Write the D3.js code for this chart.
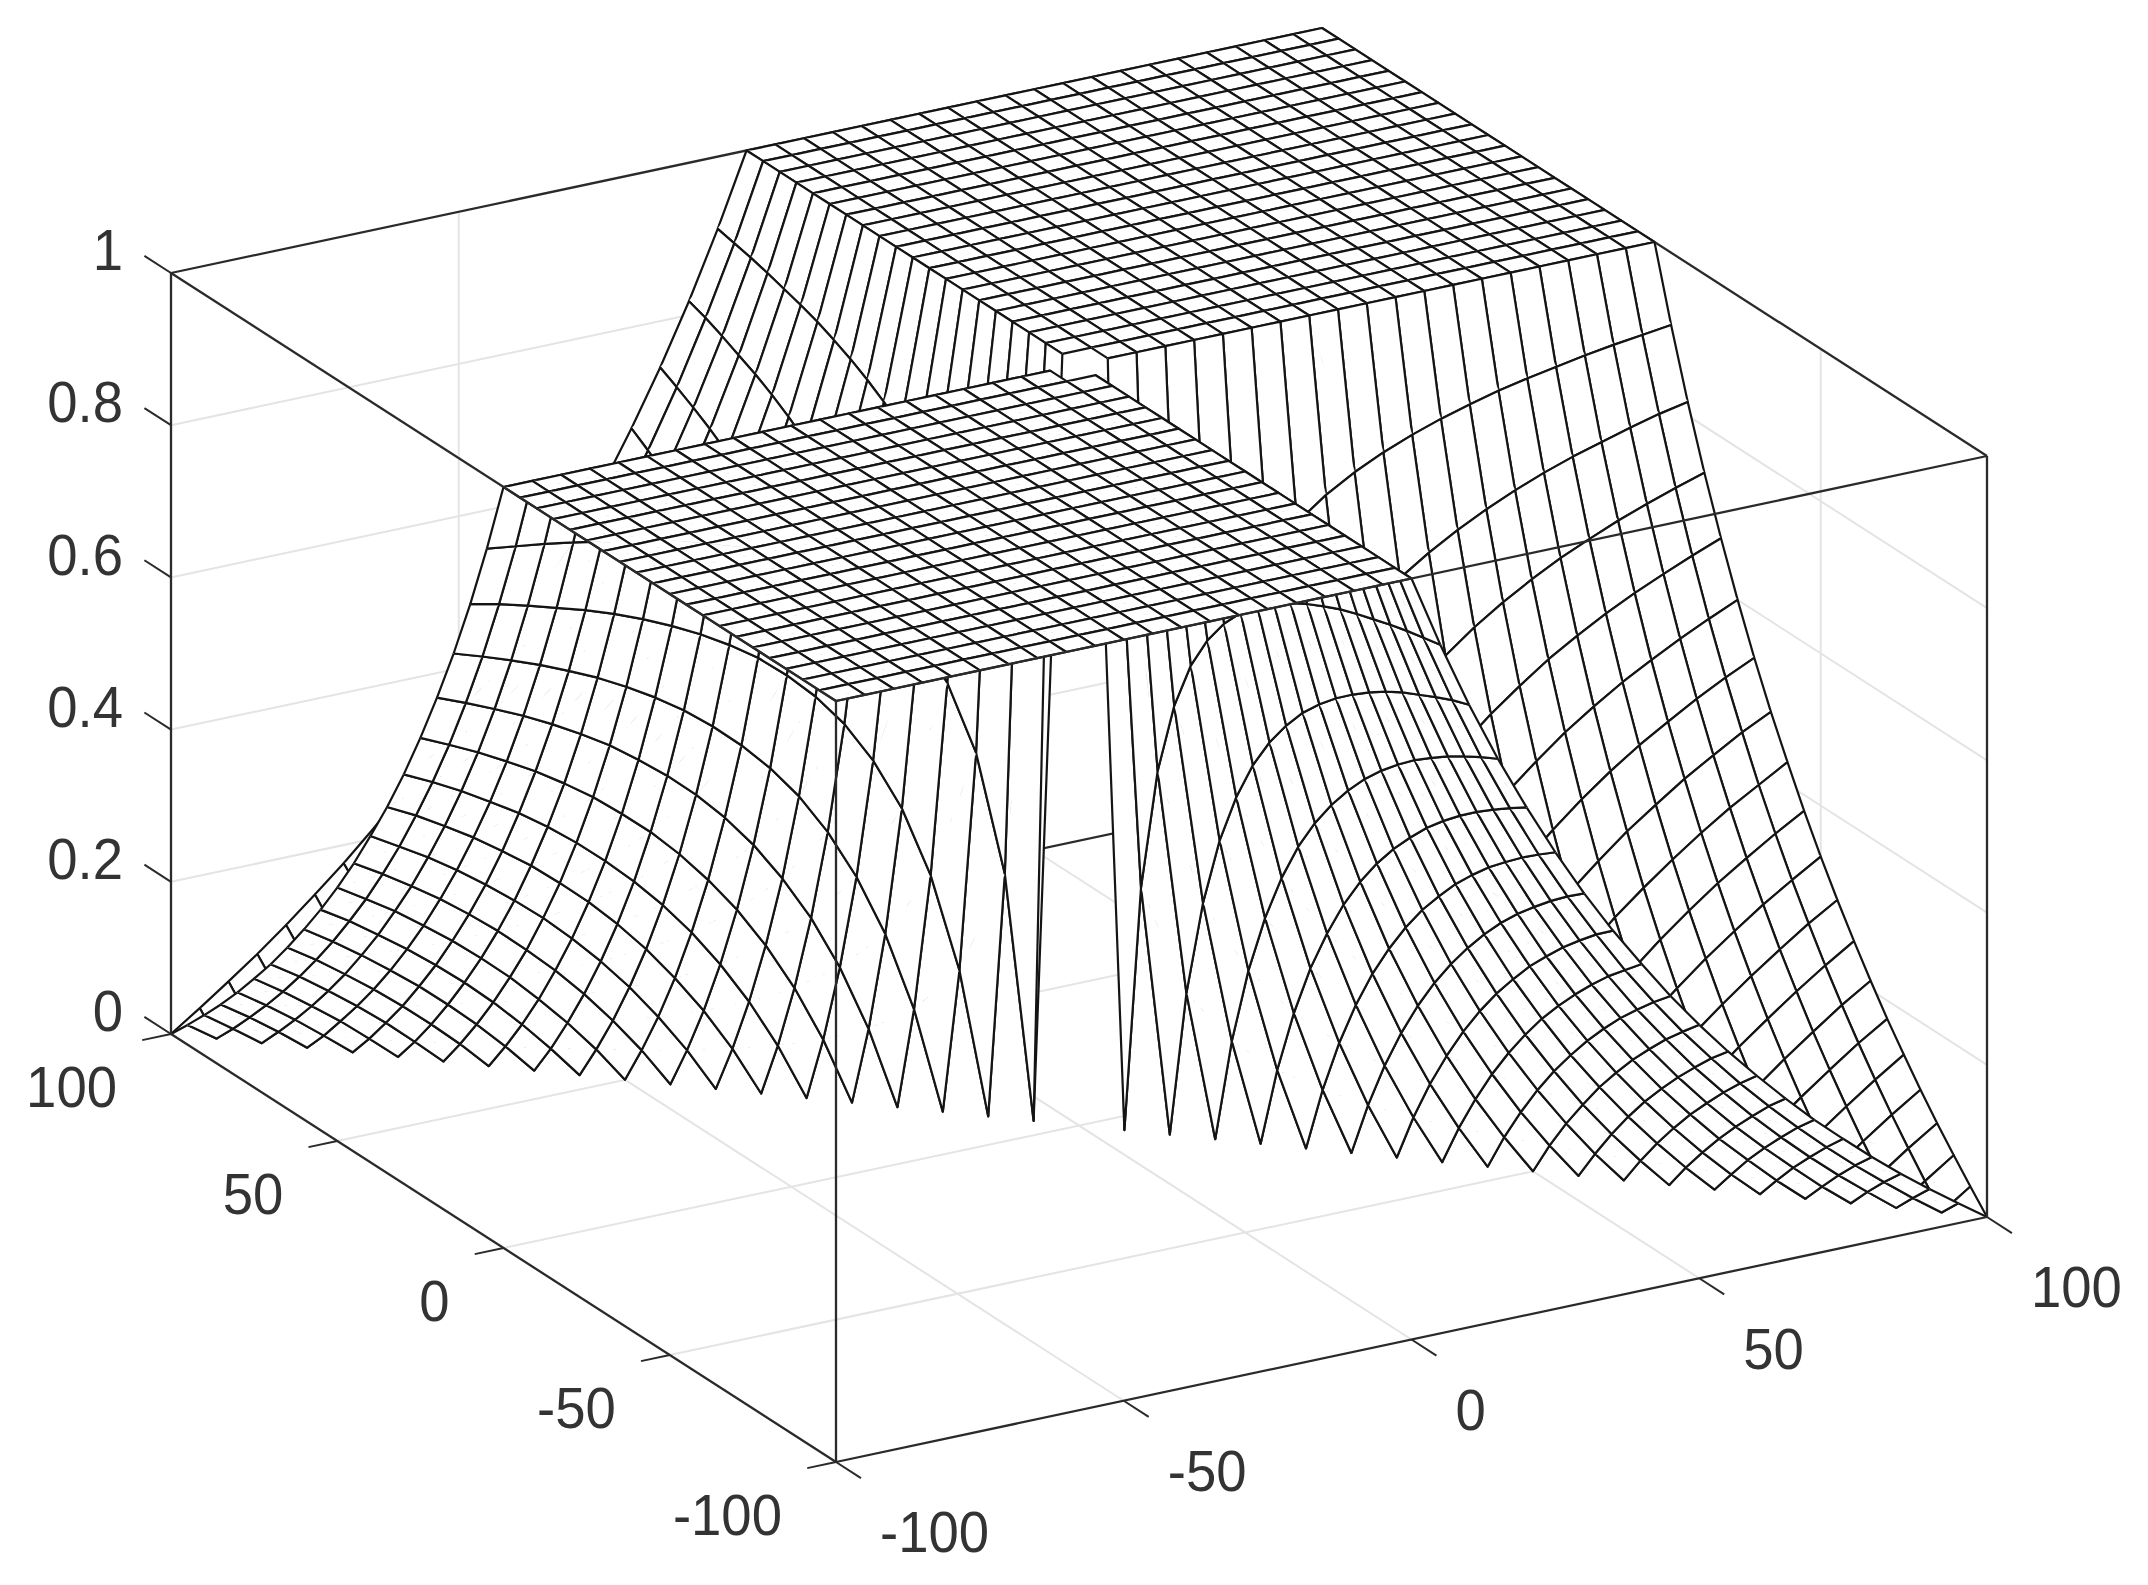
<!DOCTYPE html>
<html><head><meta charset="utf-8">
<script src="https://cdn.jsdelivr.net/npm/d3@7"></script>
<style>html,body{margin:0;background:#fff}svg{display:block}</style></head>
<body><svg id="c" width="2148" height="1585"></svg>
<script>
// Axis ticks
const xTicks = [-100, -50, 0, 50, 100];
const yTicks = [-100, -50, 0, 50, 100];
const zTicks = [0, 0.2, 0.4, 0.6, 0.8, 1];
const zTickLabels = ["0", "0.2", "0.4", "0.6", "0.8", "1"];
// Mesh sample positions (41 per side)
const gridValues = [-100,-95,-90,-85,-80,-75,-70,-65,-60,-55,-50,-45,-40,-35,-30,-25,-20,-15,-10,-5,0,5,10,15,20,25,30,35,40,45,50,55,60,65,70,75,80,85,90,95,100];
// Height on the two plateaus (x and y with the same sign)
const plateauHeight = 1;
// Height on the two sloped quadrants, indexed [larger |coord| step][smaller |coord| step], steps of 5
const slopeHeights = [
 [null],
 [1,0],
 [1,.333,0],
 [1,.5,.2,0],
 [1,.6,.333,.143,0],
 [1,.667,.429,.25,.111,0],
 [1,.714,.5,.333,.2,.091,0],
 [1,.75,.556,.4,.273,.167,.077,0],
 [1,.778,.6,.455,.333,.231,.143,.067,0],
 [1,.8,.636,.5,.385,.286,.2,.125,.059,0],
 [1,.818,.667,.538,.429,.333,.25,.176,.111,.053,0],
 [1,.833,.692,.571,.467,.375,.294,.222,.158,.1,.048,0],
 [1,.846,.714,.6,.5,.412,.333,.263,.2,.143,.091,.043,0],
 [1,.857,.733,.625,.529,.444,.368,.3,.238,.182,.13,.083,.04,0],
 [1,.867,.75,.647,.556,.474,.4,.333,.273,.217,.167,.12,.077,.037,0],
 [1,.875,.765,.667,.579,.5,.429,.364,.304,.25,.2,.154,.111,.071,.034,0],
 [1,.882,.778,.684,.6,.524,.455,.391,.333,.28,.231,.185,.143,.103,.067,.032,0],
 [1,.889,.789,.7,.619,.545,.478,.417,.36,.308,.259,.214,.172,.133,.097,.063,.03,0],
 [1,.895,.8,.714,.636,.565,.5,.44,.385,.333,.286,.241,.2,.161,.125,.091,.059,.029,0],
 [1,.9,.81,.727,.652,.583,.52,.462,.407,.357,.31,.267,.226,.188,.152,.118,.086,.056,.027,0],
 [1,.905,.818,.739,.667,.6,.538,.481,.429,.379,.333,.29,.25,.212,.176,.143,.111,.081,.053,.026,0]
];

const origin = [836, 1462];
const xDomain = [-100, 100], yDomain = [-100, 100], zDomain = [0, 1];
const xPx = d3.scaleLinear().domain(xDomain).range([0, 1151]);
const xPy = d3.scaleLinear().domain(xDomain).range([0, -245]);
const yPx = d3.scaleLinear().domain(yDomain).range([0, -665]);
const yPy = d3.scaleLinear().domain(yDomain).range([0, -428]);
const zPy = d3.scaleLinear().domain(zDomain).range([0, -761]);
const project = (x, y, z) => [origin[0] + xPx(x) + yPx(y), origin[1] + xPy(x) + yPy(y) + zPy(z)];

function heightAt(x, y) {
  if (x === 0 && y === 0) return null;
  if (x * y > 0 || x === 0 || y === 0) return plateauHeight;
  const a = Math.abs(x) / 5, b = Math.abs(y) / 5;
  return slopeHeights[Math.max(a, b)][Math.min(a, b)];
}

const svg = d3.select("#c");
const line = d3.line();
const closed = d3.line().curve(d3.curveLinearClosed);
const seg = (g, a, b, stroke, w) => g.append("path").attr("d", line([a, b])).attr("fill", "none").attr("stroke", stroke).attr("stroke-width", w);

// Grid on floor and back walls
const gridCol = "#e4e4e4", gridW = 2;
const gGrid = svg.append("g");
xTicks.slice(1, -1).forEach(x => {
  seg(gGrid, project(x, -100, 0), project(x, 100, 0), gridCol, gridW);
  seg(gGrid, project(x, 100, 0), project(x, 100, 1), gridCol, gridW);
});
yTicks.slice(1, -1).forEach(y => {
  seg(gGrid, project(-100, y, 0), project(100, y, 0), gridCol, gridW);
  seg(gGrid, project(100, y, 0), project(100, y, 1), gridCol, gridW);
});
zTicks.slice(1, -1).forEach(z => {
  seg(gGrid, project(-100, 100, z), project(100, 100, z), gridCol, gridW);
  seg(gGrid, project(100, 100, z), project(100, -100, z), gridCol, gridW);
});

// Back box edges
const axCol = "#2a2a2a", axW = 2.3;
const gBack = svg.append("g");
[[[-100,100,1],[100,100,1]],[[100,100,1],[100,-100,1]],[[-100,100,0],[100,100,0]],[[100,100,0],[100,-100,0]],[[100,100,0],[100,100,1]]]
  .forEach(e => seg(gBack, project(...e[0]), project(...e[1]), axCol, axW));

// Mesh: far cells first; each cell is two white triangles split along its x+y diagonal,
// with only the cell's own edges stroked, so the white hides what lies behind.
const gMesh = svg.append("g");
const meshCol = "#141414", meshW = 2.2;
const descending = gridValues.slice().reverse();
function drawHalf(a, b, c) { // a is the outer corner; b, c on the split
  gMesh.append("path").attr("d", closed([a, b, c])).attr("fill", "#fff").attr("stroke", "#fff").attr("stroke-width", 0.5);
  gMesh.append("path").attr("d", line([b, a, c])).attr("fill", "none")
    .attr("stroke", meshCol).attr("stroke-width", meshW).attr("stroke-linejoin", "round");
}
for (let i = 0; i < descending.length - 1; i++) {
  for (let j = 0; j < descending.length - 1; j++) {
    const x1 = descending[i], x0 = descending[i + 1], y1 = descending[j], y0 = descending[j + 1];
    const corners = [[x1, y1], [x0, y1], [x1, y0], [x0, y0]];
    const zs = corners.map(c => heightAt(c[0], c[1]));
    if (zs.some(z => z === null)) continue;
    const [far, s1, s2, near] = corners.map((c, k) => project(c[0], c[1], zs[k]));
    drawHalf(far, s1, s2);
    drawHalf(near, s1, s2);
  }
}

// Front box edges
const gFront = svg.append("g");
[[[-100,-100,0],[100,-100,0]],[[-100,-100,0],[-100,100,0]],[[-100,-100,1],[100,-100,1]],[[-100,-100,1],[-100,100,1]],
 [[-100,-100,0],[-100,-100,1]],[[-100,100,0],[-100,100,1]],[[100,-100,0],[100,-100,1]]]
  .forEach(e => seg(gFront, project(...e[0]), project(...e[1]), axCol, axW));

// Ticks and labels
const gT = svg.append("g").attr("font-family", "'Liberation Sans',Arial,sans-serif").attr("font-size", 54.5).attr("fill", "#333");
const label = (px, py, anchor, txt) => gT.append("text")
  .attr("transform", `translate(${px},${py}) scale(1,1.04)`).attr("dy", ".358em").attr("text-anchor", anchor).text(txt);
xTicks.forEach(x => {
  const p = project(x, -100, 0);
  seg(gT, p, project(x, -107.5, 0), axCol, 2);
  label(p[0] + 44, p[1] + 70, "start", x);
});
yTicks.forEach(y => {
  const p = project(-100, y, 0);
  seg(gT, p, project(-105, y, 0), axCol, 2);
  label(p[0] - 54, p[1] + 53, "end", y);
});
zTicks.forEach((z, i) => {
  const p = project(-100, 100, z);
  seg(gT, p, project(-100, 108, z), axCol, 2);
  label(p[0] - 48, p[1] - 23, "end", zTickLabels[i]);
});
</script></body></html>
